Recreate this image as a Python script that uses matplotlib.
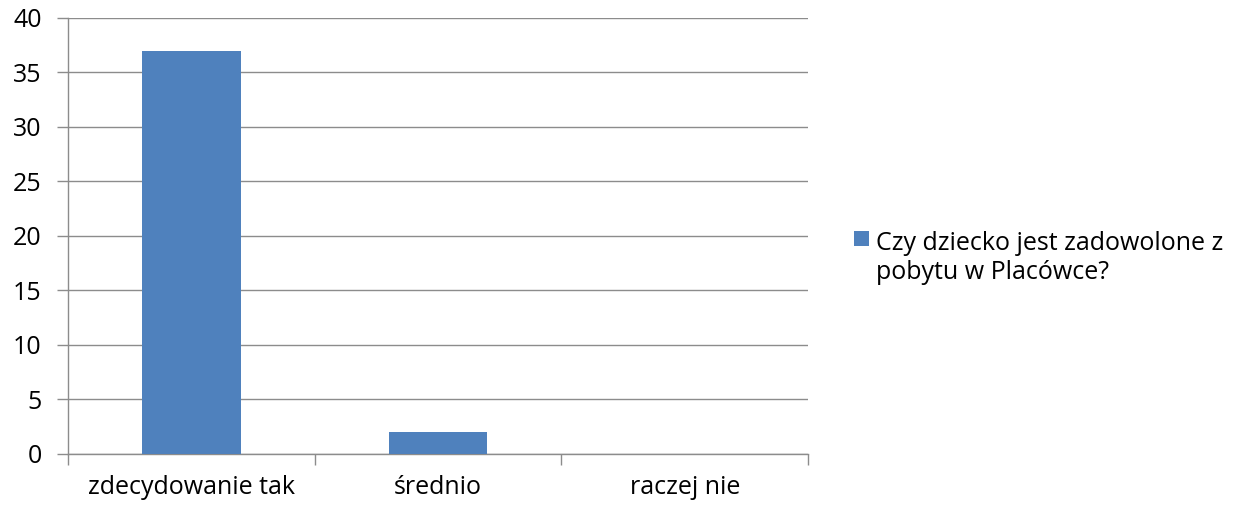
import matplotlib
matplotlib.use('agg')
import matplotlib.pyplot as plt
import numpy as np

categories = ['zdecydowanie tak', 'średnio', 'raczej nie']
values = [37, 2, 0]
series_name = 'Czy dziecko jest zadowolone z\npobytu w Placówce?'
yticks = [0, 5, 10, 15, 20, 25, 30, 35, 40]

plt.rcParams['font.family'] = ['Open Sans', 'DejaVu Sans']
fs = 18

fig = plt.figure(figsize=(12.46, 5.05), dpi=100)
ax = fig.add_axes([0.0546, 0.101, 0.594, 0.8634])

x = np.arange(len(categories))
ax.bar(x, values, width=0.4, color='#4F81BD', label=series_name, zorder=3)

ax.set_xlim(-0.5, len(categories) - 0.5)
ax.set_ylim(0, 40)
ax.set_yticks(yticks)
ax.yaxis.grid(True, color='#8C8C8C', linewidth=1, zorder=0)
ax.set_xticks(x)
ax.set_xticklabels(categories)
ax.set_xticks(np.arange(len(categories) + 1) - 0.5, minor=True)
ax.tick_params(axis='x', which='major', length=0, pad=15, labelsize=fs, colors='#000000')
ax.tick_params(axis='x', which='minor', length=8, width=1, color='#8C8C8C', direction='out')
ax.tick_params(axis='y', length=8, width=1, color='#8C8C8C', labelcolor='#000000', pad=11, labelsize=fs)

for s in ['top', 'right']:
    ax.spines[s].set_visible(False)
for s in ['left', 'bottom']:
    ax.spines[s].set_color('#8C8C8C')
    ax.spines[s].set_linewidth(1)

# legend: square sits next to the first line of the wrapped label
hh = 2.3
leg = fig.legend(loc='upper left', bbox_to_anchor=(0.667, 0.587), frameon=False,
                 fontsize=fs, handlelength=0.6, handleheight=hh, handletextpad=0.3)
rect = leg.legend_handles[0]
sq = 0.6 * fs
rect.set_height(sq)
rect.set_y(rect.get_y() + hh * fs - sq - 0.3 * fs)

fig.savefig('out.png', dpi=100)
